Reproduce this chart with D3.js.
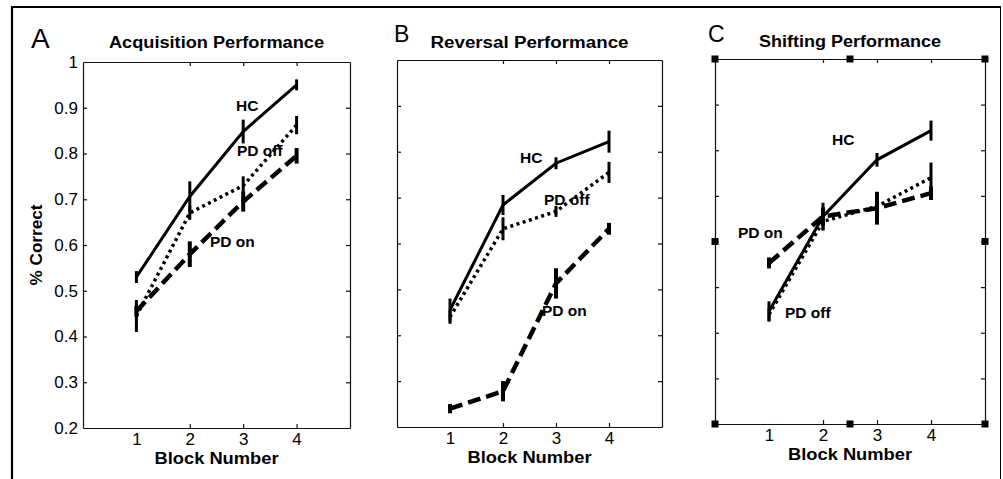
<html>
<head>
<script src="https://d3js.org/d3.v7.min.js"></script>
<style>
  body { margin: 0; background: #fff; }
  text { font-family: "Liberation Sans", Arial, Helvetica, sans-serif; fill: #000; }
  .axis path, .axis line { stroke: #111; stroke-width: 1.2; }
  .title { font-size: 16px; font-weight: bold; }
  .xlabel, .ylabel { font-size: 16px; font-weight: bold; }
  .series { font-size: 15.5px; font-weight: bold; }
</style>
</head>
<body>
<svg id="fig"></svg>
<script>
// ---- data ----
var blocks = [1, 2, 3, 4];
var yTicks = [0.2, 0.3, 0.4, 0.5, 0.6, 0.7, 0.8, 0.9, 1];
var seriesNames = ["HC", "PD off", "PD on"];

// A: acquisition
var accHC      = [0.53, 0.706, 0.848, 0.95];
var accHCErr   = [0.013, 0.033, 0.026, 0.012];
var accOff     = [0.445, 0.67, 0.73, 0.862];
var accOffErr  = [0.035, 0.015, 0.02, 0.02];
var accOn      = [0.455, 0.58, 0.695, 0.795];
var accOnErr   = [0.012, 0.028, 0.022, 0.017];

// B: reversal
var revHC      = [0.455, 0.684, 0.775, 0.822];
var revHCErr   = [0.025, 0.022, 0.013, 0.024];
var revOff     = [0.44, 0.632, 0.67, 0.755];
var revOffErr  = [0.015, 0.025, 0.012, 0.023];
var revOn      = [0.24, 0.278, 0.513, 0.632];
var revOnErr   = [0.01, 0.022, 0.033, 0.013];

// C: shifting
var shHC       = [0.447, 0.655, 0.779, 0.843];
var shHCErr    = [0.022, 0.03, 0.015, 0.022];
var shOff      = [0.44, 0.644, 0.677, 0.74];
var shOffErr   = [0.015, 0.02, 0.015, 0.033];
var shOn       = [0.553, 0.655, 0.673, 0.706];
var shOnErr    = [0.012, 0.02, 0.036, 0.015];

// ---- layout ----
var W = 1003, H = 479;
var svg = d3.select("#fig").attr("width", W).attr("height", H);

// outer frame (top + left heavy, right thin)
svg.append("line").attr("x1", 12).attr("y1", 7).attr("x2", 1000).attr("y2", 7)
    .attr("stroke", "#000").attr("stroke-width", 2);
svg.append("line").attr("x1", 12).attr("y1", 6).attr("x2", 12).attr("y2", H)
    .attr("stroke", "#000").attr("stroke-width", 2.2);
svg.append("line").attr("x1", 1000.5).attr("y1", 6).attr("x2", 1000.5).attr("y2", H)
    .attr("stroke", "#000").attr("stroke-width", 1);

var styles = [
    {dash: null,    width: 3,   barWidth: 3},
    {dash: "3,3.5", width: 3.5, barWidth: 3},
    {dash: "13,6",  width: 4.5, barWidth: 4}
];

var panels = [
    {letter: "A", letterX: 31, letterY: 48, letterSize: 28,
     title: "Acquisition Performance", titleLen: 215, titleY: 48,
     x0: 83, x1: 350, y0: 62, y1: 428, yLabels: true, handles: false,
     values: [accHC, accOff, accOn], errs: [accHCErr, accOffErr, accOnErr],
     labelPos: [[236, 111], [237, 156], [210, 247]]},
    {letter: "B", letterX: 394, letterY: 42, letterSize: 23,
     title: "Reversal Performance", titleLen: 198, titleY: 47.5,
     x0: 397, x1: 662, y0: 60, y1: 427, yLabels: false, handles: false,
     values: [revHC, revOff, revOn], errs: [revHCErr, revOffErr, revOnErr],
     labelPos: [[520, 163], [544, 205], [542, 316]]},
    {letter: "C", letterX: 708, letterY: 42, letterSize: 23,
     title: "Shifting Performance", titleLen: 182, titleY: 47,
     x0: 715, x1: 985, y0: 59, y1: 424, yLabels: false, handles: true,
     values: [shHC, shOff, shOn], errs: [shHCErr, shOffErr, shOnErr],
     labelPos: [[832, 145], [785, 318], [738, 238]]}
];

panels.forEach(function(p) {
    var x = d3.scaleLinear().domain([0, 5]).range([p.x0, p.x1]);
    var y = d3.scaleLinear().domain([0.2, 1]).range([p.y1, p.y0]);
    var g = svg.append("g");

    // axes: box with inward ticks
    g.append("g").attr("class", "axis")
        .attr("transform", "translate(0," + p.y1 + ")")
        .call(d3.axisBottom(x).tickValues(blocks).tickSize(-4).tickSizeOuter(0).tickPadding(5)
              .tickFormat(d3.format("d")));
    g.append("g").attr("class", "axis")
        .attr("transform", "translate(0," + p.y0 + ")")
        .call(d3.axisTop(x).tickValues(blocks).tickSize(-4).tickSizeOuter(0).tickFormat(""));
    g.append("g").attr("class", "axis")
        .attr("transform", "translate(" + p.x0 + ",0)")
        .call(d3.axisLeft(y).tickValues(yTicks).tickSize(-4).tickSizeOuter(0).tickPadding(5)
              .tickFormat(p.yLabels ? d3.format("") : ""));
    g.append("g").attr("class", "axis")
        .attr("transform", "translate(" + p.x1 + ",0)")
        .call(d3.axisRight(y).tickValues(yTicks).tickSize(-4).tickSizeOuter(0).tickFormat(""));
    g.selectAll(".axis").attr("font-size", 17)
        .attr("font-family", "Liberation Sans, Arial, sans-serif");
    g.selectAll(".axis text").attr("fill", "#000");
    // ticks at the box ends sit on the frame
    g.selectAll(".axis .tick line").filter(function(d) { return d === 1 || d === 0.2; })
        .attr("stroke-opacity", 0);

    // panel letter + title
    g.append("text").attr("x", p.letterX).attr("y", p.letterY)
        .attr("font-size", p.letterSize).text(p.letter);
    g.append("text").attr("class", "title")
        .attr("x", (p.x0 + p.x1) / 2).attr("y", p.titleY)
        .attr("text-anchor", "middle")
        .attr("textLength", p.titleLen).attr("lengthAdjust", "spacingAndGlyphs")
        .text(p.title);
    g.append("text").attr("class", "xlabel")
        .attr("x", (p.x0 + p.x1) / 2).attr("y", p.y1 + 36)
        .attr("text-anchor", "middle")
        .attr("textLength", 124).attr("lengthAdjust", "spacingAndGlyphs")
        .text("Block Number");
    if (p.yLabels) {
        g.append("text").attr("class", "ylabel")
            .attr("transform", "translate(42," + ((p.y0 + p.y1) / 2) + ") rotate(-90)")
            .attr("text-anchor", "middle")
            .attr("textLength", 81).attr("lengthAdjust", "spacingAndGlyphs")
            .text("% Correct");
    }

    // series lines + error bars
    var line = d3.line().x(function(d, i) { return x(blocks[i]); }).y(function(d) { return y(d); });
    p.values.forEach(function(vals, s) {
        var st = styles[s];
        g.append("path").attr("d", line(vals))
            .attr("fill", "none").attr("stroke", "#000")
            .attr("stroke-width", st.width)
            .attr("stroke-dasharray", st.dash);
        g.selectAll(null).data(vals).enter().append("line")
            .attr("x1", function(d, i) { return x(blocks[i]); })
            .attr("x2", function(d, i) { return x(blocks[i]); })
            .attr("y1", function(d, i) { return y(d - p.errs[s][i]); })
            .attr("y2", function(d, i) { return y(d + p.errs[s][i]); })
            .attr("stroke", "#000").attr("stroke-width", st.barWidth);
        g.append("text").attr("class", "series")
            .attr("x", p.labelPos[s][0]).attr("y", p.labelPos[s][1])
            .text(seriesNames[s]);
    });

    // selection handles (panel C)
    if (p.handles) {
        var xm = (p.x0 + p.x1) / 2, ym = (p.y0 + p.y1) / 2;
        var pts = [[p.x0, p.y0], [xm, p.y0], [p.x1, p.y0], [p.x0, ym], [p.x1, ym],
                   [p.x0, p.y1], [xm, p.y1], [p.x1, p.y1]];
        g.selectAll(null).data(pts).enter().append("rect")
            .attr("x", function(d) { return d[0] - 3.5; })
            .attr("y", function(d) { return d[1] - 3.5; })
            .attr("width", 7).attr("height", 7)
            .attr("fill", "#000");
    }
});
</script>
</body>
</html>
